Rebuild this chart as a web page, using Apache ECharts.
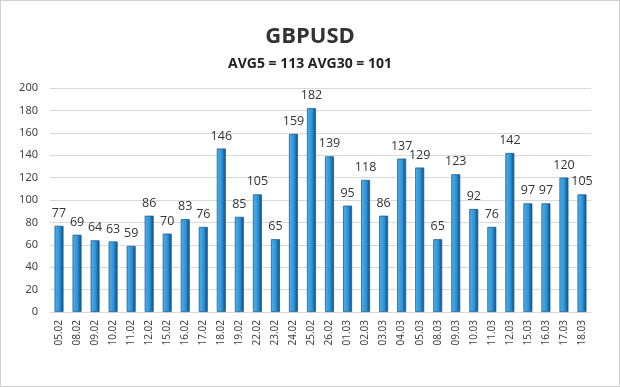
<!DOCTYPE html>
<html><head><meta charset="utf-8">
<script src="https://cdn.jsdelivr.net/npm/echarts@6/dist/echarts.min.js"></script>
<style>html,body{margin:0;padding:0;background:#fff}#c{width:620px;height:387px;box-sizing:border-box;border:1px solid #d0d0d0}</style>
</head><body><div id="c"></div>
<script>
var categories = ['05.02','08.02','09.02','10.02','11.02','12.02','15.02','16.02','17.02','18.02','19.02','22.02','23.02','24.02','25.02','26.02','01.03','02.03','03.03','04.03','05.03','08.03','09.03','10.03','11.03','12.03','15.03','16.03','17.03','18.03'];
var values = [77,69,64,63,59,86,70,83,76,146,85,105,65,159,182,139,95,118,86,137,129,65,123,92,76,142,97,97,120,105];
var titleText = 'GBPUSD';
var subtitleText = 'AVG5 = 113 AVG30 = 101';

var chart = echarts.init(document.getElementById('c'));
chart.setOption({
  backgroundColor: '#fff',
  animation: false,
  title: {
    text: titleText, subtext: subtitleText, left: 'center', top: 20, itemGap: 9,
    textStyle: {fontFamily: 'Open Sans', fontSize: 22, fontWeight: 'bold', color: '#333'},
    subtextStyle: {fontFamily: 'Open Sans', fontSize: 14, fontWeight: 'bold', color: '#222'}
  },
  grid: {left: 49, right: 28, top: 87, bottom: 74},
  xAxis: {
    type: 'category', data: categories,
    axisLine: {lineStyle: {color: '#d8d8d8'}},
    axisTick: {show: false},
    axisLabel: {rotate: 90, fontFamily: 'Noto Sans', fontSize: 10, color: '#444', margin: 8}
  },
  yAxis: {
    type: 'value', min: 0, max: 200, interval: 20,
    axisLine: {show: false}, axisTick: {show: false},
    splitLine: {lineStyle: {color: '#d9d9d9'}},
    axisLabel: {fontFamily: 'Noto Sans', fontSize: 11, color: '#444', margin: 12}
  },
  series: [{
    type: 'bar', data: values, barWidth: 9,
    itemStyle: {
      color: new echarts.graphic.LinearGradient(0, 0, 1, 0, [
        {offset: 0, color: '#55b3ea'},
        {offset: 0.6, color: '#2a8fd4'},
        {offset: 0.75, color: '#1b6fae'},
        {offset: 1, color: '#164f80'}
      ]),
      borderColor: '#1a5f95', borderWidth: 0.8
    },
    label: {show: true, position: 'top', distance: 6, fontFamily: 'Open Sans', fontSize: 12.5, color: '#333'}
  }]
});
</script></body></html>
